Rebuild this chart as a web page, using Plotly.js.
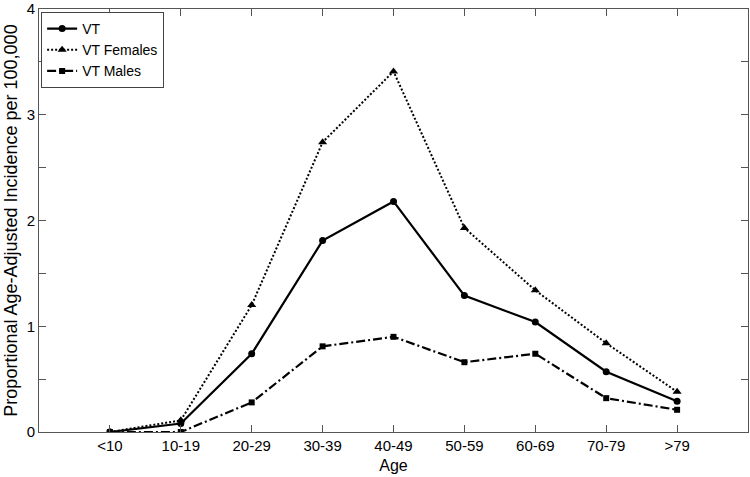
<!DOCTYPE html>
<html>
<head>
<meta charset="utf-8">
<script src="https://cdn.plot.ly/plotly-3.0.1.min.js"></script>
<style>body{margin:0;padding:0;background:#fff}#chart{width:750px;height:477px}</style>
</head>
<body>
<div id="chart"></div>
<script>
var categories = ["<10","10-19","20-29","30-39","40-49","50-59","60-69","70-79",">79"];
var positions = [1,2,3,4,5,6,7,8,9];
var vtAll = [0, 0.08, 0.74, 1.81, 2.18, 1.29, 1.04, 0.57, 0.29];
var vtFemales = [0, 0.11, 1.2, 2.74, 3.41, 1.93, 1.34, 0.84, 0.38];
var vtMales = [0, 0, 0.28, 0.81, 0.9, 0.66, 0.74, 0.32, 0.21];
var yTickVals = [0,0.5,1,1.5,2,2.5,3,3.5,4];
var yTickText = ["0","","1","","2","","3","","4"];

var traces = [
  {x: positions, y: vtAll, name: "VT", mode: "lines+markers",
   line: {color: "#000", width: 2.2, dash: "solid"},
   marker: {symbol: "circle", size: 7, color: "#000"}},
  {x: positions, y: vtFemales, name: "VT Females", mode: "lines+markers",
   line: {color: "#000", width: 2, dash: "2px,2px"},
   marker: {symbol: "triangle-up", size: 8, color: "#000"}},
  {x: positions, y: vtMales, name: "VT Males", mode: "lines+markers",
   line: {color: "#000", width: 2.2, dash: "9px,3px,2px,3px"},
   marker: {symbol: "square", size: 6, color: "#000"}}
];

var layout = {
  width: 750, height: 477,
  margin: {l: 39, r: 2, t: 9, b: 45},
  paper_bgcolor: "#fff", plot_bgcolor: "#fff",
  font: {family: "Liberation Sans, Arial, sans-serif", size: 15, color: "#000"},
  showlegend: true,
  legend: {x: 0.003, y: 0.993, xanchor: "left", yanchor: "top",
           bordercolor: "#444", borderwidth: 1, bgcolor: "#fff",
           font: {size: 14}, itemwidth: 30, tracegroupgap: 0},
  xaxis: {range: [0, 10], tickvals: positions, ticktext: categories,
          ticks: "inside", ticklen: 7, tickcolor: "#555",
          showline: true, linecolor: "#555", linewidth: 1, mirror: "ticks",
          showgrid: false, zeroline: false,
          title: {text: "Age", font: {size: 16}, standoff: 6},
          tickfont: {size: 15}},
  yaxis: {range: [0, 4], tickvals: yTickVals, ticktext: yTickText,
          ticks: "inside", ticklen: 7, tickcolor: "#555",
          showline: true, linecolor: "#555", linewidth: 1, mirror: "ticks",
          showgrid: false, zeroline: false,
          title: {text: "Proportional Age-Adjusted Incidence per 100,000", font: {size: 18}, standoff: 4},
          tickfont: {size: 15}}
};

Plotly.newPlot("chart", traces, layout, {displayModeBar: false, staticPlot: true});
</script>
</body>
</html>
